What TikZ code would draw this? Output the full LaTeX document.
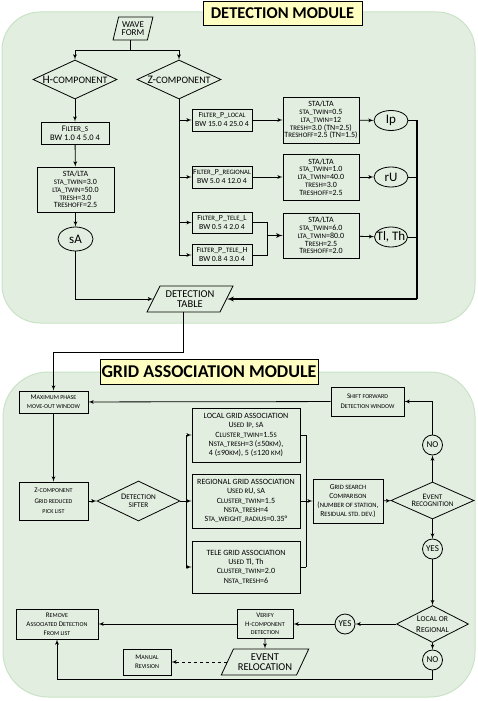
\documentclass[tikz,border=0pt]{standalone}
\usepackage{fontspec}
\setmainfont{Carlito}
\usepackage{tikz}
\usetikzlibrary{shapes,shapes.geometric,arrows,positioning}
\usepackage{xcolor}
\definecolor{modgreen}{HTML}{E2EEE0}
\definecolor{modedge}{HTML}{C9E3C6}
\definecolor{titleyellow}{HTML}{FFFFC2}
\newcommand{\ovaltext}[1]{\makebox[0pt]{#1}}
\makeatletter
\newcommand{\smc}[1]{{\fontsize{\fpeval{0.86*\f@size}}{\f@baselineskip}\selectfont #1}}
\makeatother

\begin{document}
\begin{tikzpicture}[x=1pt,y=-1pt]
    \tikzstyle{block} = [rectangle, draw, line width=0.8pt, align=center,
               inner sep=1pt, font=\fontsize{8}{7.8}\selectfont]
    \tikzstyle{decision} = [diamond, draw, line width=0.8pt, align=center,
               inner sep=0pt, shape aspect=2.1,
               font=\fontsize{8.5}{8}\selectfont]
    \tikzstyle{io} = [trapezium, draw, line width=0.8pt, align=center,
               inner sep=0pt, trapezium stretches=true,
               trapezium left angle=58, trapezium right angle=122]
    \tikzstyle{phase} = [ellipse, draw, line width=0.8pt, inner sep=0pt,
               minimum width=34pt, minimum height=20pt,
               font=\fontsize{13}{13}\selectfont]
    \tikzstyle{answer} = [circle, draw, line width=0.8pt, inner sep=0pt,
               minimum size=20pt, font=\fontsize{9}{9}\selectfont]
    \tikzstyle{module} = [draw=modedge, fill=modgreen, line width=1pt]
    \tikzstyle{title} = [rectangle, draw, line width=0.8pt, fill=titleyellow,
               inner sep=0pt]
    \tikzstyle{line} = [draw, line width=0.8pt, -latex']

    \useasboundingbox (0,0) rectangle (478,701);

    % Module backgrounds
    \draw[module, rounded corners=38pt] (2,12) rectangle (475,323);
    \draw[module, rounded corners=45pt] (3,372) rectangle (475,697);

    % Detection module
    \node[title, minimum width=159pt, minimum height=24pt,
      font=\fontsize{16.5}{18}\selectfont\bfseries] (dettitle) at (282.5,13) {DETECTION MODULE};

    \node[io, trapezium left angle=73, trapezium right angle=107,
      minimum width=40pt, minimum height=23pt,
      font=\fontsize{9}{8.5}\selectfont] (wave) at (133,28.5) {WAVE\\FORM};

    \node[decision, minimum width=84pt, minimum height=39pt,
      font=\fontsize{11.5}{12}\selectfont] (hcomp) at (75,79.5) {H-\smc{COMPONENT}};
    \node[decision, minimum width=84pt, minimum height=39pt,
      font=\fontsize{11.5}{12}\selectfont] (zcomp) at (179,79.5) {Z-\smc{COMPONENT}};

    \node[block, minimum width=68pt, minimum height=22pt,
      font=\fontsize{8.5}{9}\selectfont] (filts) at (75,133) {F\smc{ILTER\_S}\\BW 1.0 4 5.0 4};
    \node[block, minimum width=77pt, minimum height=45pt] (stah) at (75.5,189.5)
      {STA/LTA\\\smc{STA\_TWIN}=3.0\\\smc{LTA\_TWIN}=50.0\\\smc{TRESH}=3.0\\T\smc{RESHOFF}=2.5};
    \node[phase, minimum width=35pt, minimum height=24pt] (sa) at (75.5,239) {\ovaltext{sA}};

    % Z branch filters
    \node[block, minimum width=60pt, minimum height=22pt,
      font=\fontsize{7.8}{9}\selectfont] (floc) at (222,120) {F\smc{ILTER}\_P\_\smc{LOCAL}\\BW 15.0 4 25.0 4};
    \node[block, minimum width=60pt, minimum height=22pt,
      font=\fontsize{7.8}{9}\selectfont] (freg) at (222,177) {F\smc{ILTER}\_P\_\smc{REGIONAL}\\BW 5.0 4 12.0 4};
    \node[block, minimum width=60pt, minimum height=21pt,
      font=\fontsize{7.8}{9}\selectfont] (ftelel) at (222,222.5) {F\smc{ILTER}\_P\_\smc{TELE}\_L\\BW 0.5 4 2.0 4};
    \node[block, minimum width=60pt, minimum height=21pt,
      font=\fontsize{7.8}{9}\selectfont] (fteleh) at (222,255) {F\smc{ILTER}\_P\_\smc{TELE}\_H\\BW 0.8 4 3.0 4};

    \node[block, minimum width=76pt, minimum height=46pt] (staloc) at (321,120)
      {STA/LTA\\\smc{STA\_TWIN}=0.5\\\smc{LTA\_TWIN}=12\\\smc{TRESH}=3.0 (TN=2.5)\\T\smc{RESHOFF}=2.5 (TN=1.5)};
    \node[block, minimum width=76pt, minimum height=46pt] (stareg) at (321,177)
      {STA/LTA\\\smc{STA\_TWIN}=1.0\\\smc{LTA\_TWIN}=40.0\\\smc{TRESH}=3.0\\T\smc{RESHOFF}=2.5};
    \node[block, minimum width=76pt, minimum height=45pt] (statele) at (321,235.5)
      {STA/LTA\\\smc{STA\_TWIN}=6.0\\\smc{LTA\_TWIN}=80.0\\T\smc{RESH}=2.5\\T\smc{RESHOFF}=2.0};

    \node[phase] (ip) at (391,120.5) {\ovaltext{Ip}};
    \node[phase] (ru) at (391,177) {\ovaltext{rU}};
    \node[phase, minimum width=33pt] (tlth) at (391,237) {\ovaltext{Tl, Th}};

    \node[io, minimum width=86pt, minimum height=26pt,
      font=\fontsize{10.5}{10}\selectfont] (det) at (190,299) {DETECTION\\TABLE};

    \coordinate (telejoin) at (267.5,235.5);
    \coordinate (rtrunk) at (417,299);

    \draw[line width=0.8pt] (wave.bottom side) -- ++(0,10) coordinate (wavesplit);
    \path[line] (wavesplit) -| (hcomp.north);
    \path[line] (wavesplit) -| (zcomp.north);
    \path[line] (hcomp) -- (filts);
    \path[line] (filts) -- (stah);
    \path[line] (stah) -- (sa);
    \path[line] (sa) |- (det.left side);

    \draw[line width=0.8pt] (zcomp.south) -- (zcomp.south |- fteleh.west);
    \foreach \f in {floc,freg,ftelel,fteleh}
        \path[line] (zcomp.south |- \f.west) -- (\f.west);
    \path[line] (floc) -- (staloc);
    \path[line] (freg) -- (stareg);
    \draw[line width=0.8pt] (ftelel.east) -| (telejoin);
    \draw[line width=0.8pt] (fteleh.east) -| (telejoin);
    \path[line, line width=1.2pt] (telejoin) -- (statele.west);
    \path[line] (staloc) -- (ip);
    \path[line] (stareg) -- (ru);
    \path[line] (statele) -- (tlth);

    \draw[line width=1.2pt] (ip.east) -| (rtrunk);
    \draw[line width=0.8pt] (ru.east) -- (ru.east -| rtrunk);
    \draw[line width=0.8pt] (tlth.east) -- (tlth.east -| rtrunk);
    \path[line, line width=1.3pt] (rtrunk) -- (det.right side);

    % Grid association module
    \node[title, minimum width=218pt, minimum height=25pt,
      font=\fontsize{18}{20}\selectfont\bfseries] (gridtitle) at (209,371.5) {GRID ASSOCIATION MODULE};

    \node[block, minimum width=69pt, minimum height=22pt,
      font=\fontsize{7}{9.5}\selectfont] (maxphase) at (53.5,402) {M\smc{AXIMUM PHASE}\\\smc{MOVE-OUT WINDOW}};
    \node[block, minimum width=73pt, minimum height=29pt,
      font=\fontsize{7}{10}\selectfont] (shift) at (367.5,401.5) {S\smc{HIFT FORWARD}\\D\smc{ETECTION WINDOW}};
    \node[block, minimum width=69pt, minimum height=38pt,
      font=\fontsize{7}{10.5}\selectfont] (zpick) at (53.5,501) {Z-\smc{COMPONENT}\\G\smc{RID REDUCED}\\\smc{PICK LIST}};
    \node[decision, minimum width=83pt, minimum height=40pt,
      font=\fontsize{8.5}{8}\selectfont] (sifter) at (138.5,501) {D\smc{ETECTION}\\\smc{SIFTER}};

    \node[block, minimum width=108pt, minimum height=54pt,
      font=\fontsize{8}{9.3}\selectfont] (local) at (246,435)
      {LOCAL GRID ASSOCIATION\\U\smc{SED} I\smc{P}, \smc{S}A\\C\smc{LUSTER\_TWIN}=1.5\smc{S}\\
       N\smc{STA\_TRESH}=3 (≤50\smc{KM}),\\4 (≤90\smc{KM}), 5 (≤120 \smc{KM})};
    \node[block, minimum width=108pt, minimum height=54pt,
      font=\fontsize{8}{9.3}\selectfont] (regional) at (246,501)
      {REGIONAL GRID ASSOCIATION\\U\smc{SED R}U, \smc{S}A\\C\smc{LUSTER\_TWIN}=1.5\\
       N\smc{STA\_TRESH}=4\\S\smc{TA\_WEIGHT\_RADIUS}=0.35°};
    \node[block, minimum width=108pt, minimum height=52pt,
      font=\fontsize{8}{9.3}\selectfont] (tele) at (246,567)
      {TELE GRID ASSOCIATION\\U\smc{SED} Tl, Th\\C\smc{LUSTER\_TWIN}=2.0\\
       N\smc{STA\_TRESH}=6};

    \node[block, minimum width=70pt, minimum height=44pt,
      font=\fontsize{7.6}{9}\selectfont] (gsearch) at (348,501)
      {G\smc{RID SEARCH}\\C\smc{OMPARISON}\\(\smc{NUMBER OF STATION},\\R\smc{ESIDUAL STD. DEV.})};
    \node[decision, minimum width=83pt, minimum height=37pt,
      font=\fontsize{8.3}{7.5}\selectfont] (evrec) at (432.5,500.5) {E\smc{VENT}\\R\smc{ECOGNITION}};
    \node[answer] (no1) at (432.5,445) {NO};
    \node[answer] (yes1) at (432.5,549) {YES};
    \node[decision, minimum width=72pt, minimum height=37pt,
      font=\fontsize{8.8}{11}\selectfont] (locreg) at (432.5,624) {L\smc{OCAL OR}\\R\smc{EGIONAL}};
    \node[answer] (no2) at (432.5,660) {NO};
    \node[answer] (yes2) at (345,624) {YES};

    \node[block, minimum width=56pt, minimum height=29pt,
      font=\fontsize{7}{8.5}\selectfont] (verify) at (265,624) {V\smc{ERIFY}\\H-\smc{COMPONENT}\\\smc{DETECTION}};
    \node[block, minimum width=82pt, minimum height=30pt,
      font=\fontsize{7}{8.8}\selectfont] (remove) at (57,624) {R\smc{EMOVE}\\A\smc{SSOCIATED} D\smc{ETECTION}\\F\smc{ROM LIST}};
    \node[io, minimum width=88pt, minimum height=26pt,
      font=\fontsize{10.5}{10}\selectfont] (reloc) at (265,662) {EVENT\\RELOCATION};
    \node[block, minimum width=48pt, minimum height=26pt,
      font=\fontsize{7}{9.3}\selectfont] (manual) at (147,662) {M\smc{ANUAL}\\R\smc{EVISION}};

    \coordinate (lefttrunk) at (186,501);
    \coordinate (righttrunk) at (306,501);

    \path[line] (det.bottom side) -- ++(0,40) -| (maxphase.north);
    \path[line] (maxphase) -- (zpick);
    \path[line] (zpick) -- (sifter);
    \draw[line width=0.8pt] (sifter.east) -- (lefttrunk);
    \draw[line width=0.8pt] (lefttrunk |- local.west) -- (lefttrunk |- tele.west);
    \foreach \g in {local,regional,tele}
        \path[line] (lefttrunk |- \g.west) -- (\g.west);
    \foreach \g in {local,regional,tele}
        \draw[line width=0.8pt] (\g.east) -- (\g.east -| righttrunk);
    \draw[line width=0.8pt] (righttrunk |- local.east) -- (righttrunk |- tele.east);
    \path[line] (righttrunk) -- (gsearch.west);
    \path[line] (gsearch) -- (evrec);
    \path[line] (evrec) -- (no1);
    \path[line] (no1) |- (shift);
    \path[line] (shift) -- (maxphase);
    \path[line] (evrec) -- (yes1);
    \path[line] (yes1) -- (locreg);
    \path[line] (locreg) -- (no2);
    \path[line] (locreg) -- (yes2);
    \path[line] (yes2) -- (verify);
    \path[line] (verify) -- (remove);
    \path[line] (verify) -- (reloc.north);
    \path[line, dashed] (reloc.left side) -- (manual);
    \path[line] (no2.south) -- ++(0,9) -| (remove.south);

\end{tikzpicture}
\end{document}
